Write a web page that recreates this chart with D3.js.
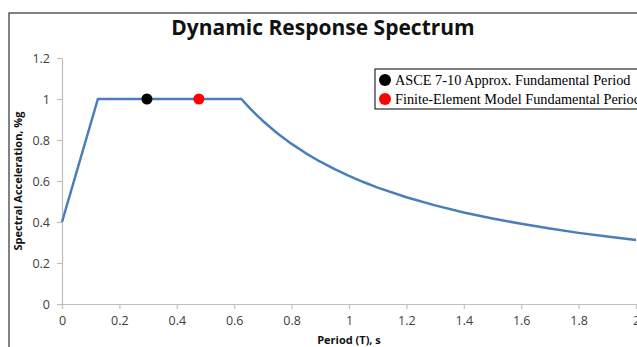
<!DOCTYPE html>
<html><head><meta charset="utf-8">
<script src="https://cdn.jsdelivr.net/npm/d3@7"></script>
<style>body{margin:0;background:#fff;overflow:hidden}svg{display:block}</style>
</head><body><svg id="c" width="637" height="347"></svg>
<script>
// Data
const periods = [0, 0.125, 0.625, 0.65, 0.675, 0.7, 0.75, 0.8, 0.85, 0.9, 0.95, 1.0, 1.05, 1.1, 1.2, 1.3, 1.4, 1.5, 1.6, 1.7, 1.8, 1.9, 2.0];
const spectralAcc = [0.4, 1, 1, 0.962, 0.926, 0.893, 0.833, 0.781, 0.735, 0.694, 0.658, 0.625, 0.595, 0.568, 0.521, 0.481, 0.446, 0.417, 0.391, 0.368, 0.347, 0.329, 0.3125];
const markerNames = ["ASCE 7-10 Approx. Fundamental Period", "Finite-Element Model Fundamental Period"];
const markerT = [0.296, 0.477];
const markerSa = [1, 1];
const markerColors = ["#000000", "#ff0000"];
const xTicks = [0, 0.2, 0.4, 0.6, 0.8, 1, 1.2, 1.4, 1.6, 1.8, 2];
const yTicks = [0, 0.2, 0.4, 0.6, 0.8, 1, 1.2];

const svg = d3.select("#c");
// outer frame
svg.append("rect").attr("x", 9).attr("y", 13).attr("width", 700).attr("height", 400)
  .attr("fill", "none").attr("stroke", "#404040").attr("stroke-width", 1.3);

const x = d3.scaleLinear().domain([0, 2]).range([62, 636]);
const y = d3.scaleLinear().domain([0, 1.2]).range([304, 58]);

// title
svg.append("text").attr("x", 323).attr("y", 35).attr("text-anchor", "middle")
  .attr("font-family", "Open Sans, sans-serif").attr("font-weight", "bold").attr("font-size", 21)
  .attr("fill", "#111").text("Dynamic Response Spectrum");

// axes
const axisColor = "#bfbfbf";
const gx = svg.append("g").attr("transform", "translate(0,304)")
  .call(d3.axisBottom(x).tickValues(xTicks).tickSize(5).tickSizeOuter(0).tickPadding(7).tickFormat(d3.format("")));
const gy = svg.append("g").attr("transform", "translate(62,0)")
  .call(d3.axisLeft(y).tickValues(yTicks).tickSize(5).tickSizeOuter(0).tickPadding(7).tickFormat(d3.format("")));
[gx, gy].forEach(g => {
  g.selectAll("path,line").attr("stroke", axisColor).attr("stroke-width", 1.2);
  g.selectAll("text").attr("font-family", "Open Sans, sans-serif").attr("font-size", 12.5).attr("fill", "#404040");
});

// axis titles
svg.append("text").attr("x", 349).attr("y", 344).attr("text-anchor", "middle")
  .attr("font-family", "Open Sans, sans-serif").attr("font-weight", "bold").attr("font-size", 11)
  .attr("fill", "#111").text("Period (T), s");
svg.append("text").attr("transform", "translate(22,181) rotate(-90)").attr("text-anchor", "middle")
  .attr("font-family", "Open Sans, sans-serif").attr("font-weight", "bold").attr("font-size", 11)
  .attr("fill", "#111").text("Spectral Acceleration, %g");

// spectrum line
const pts = periods.map((t, i) => [t, spectralAcc[i]]);
svg.append("path").datum(pts)
  .attr("d", d3.line().x(d => x(d[0])).y(d => y(d[1])))
  .attr("fill", "none").attr("stroke", "#4a7ebb").attr("stroke-width", 2.5).attr("stroke-linejoin", "round");

// markers
svg.selectAll("circle.m").data(markerT).enter().append("circle").attr("class", "m")
  .attr("cx", d => x(d)).attr("cy", (d, i) => y(markerSa[i])).attr("r", 5.5)
  .attr("fill", (d, i) => markerColors[i]);

// legend
const lg = svg.append("g");
lg.append("rect").attr("x", 375).attr("y", 69).attr("width", 300).attr("height", 40)
  .attr("fill", "#fff").attr("stroke", "#000").attr("stroke-width", 1);
markerNames.forEach((n, i) => {
  const cy = 80 + i * 19;
  lg.append("circle").attr("cx", 385).attr("cy", cy).attr("r", 6).attr("fill", markerColors[i]);
  lg.append("text").attr("x", 395).attr("y", cy + 4.5)
    .attr("font-family", "Liberation Serif, serif").attr("font-size", 14.3).attr("fill", "#000").text(n);
});
</script></body></html>
